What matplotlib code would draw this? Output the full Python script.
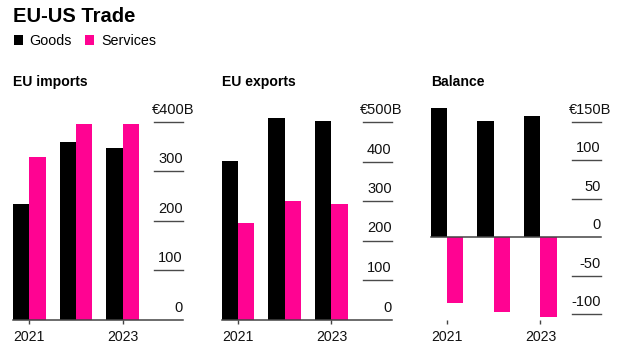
import numpy as np
import matplotlib
matplotlib.use("Agg")
import matplotlib.pyplot as plt
import matplotlib.transforms as mtransforms
from matplotlib.patches import Patch

plt.rcParams['font.family'] = ['Liberation Sans', 'DejaVu Sans']

# ---- data ----
years = ["2021", "2022", "2023"]
year_tick_labels = ["2021", "", "2023"]

imports_goods = [233, 359, 346]
imports_services = [329, 396, 396]

exports_goods = [401, 510, 503]
exports_services = [245, 300, 293]

balance_goods = [168, 151, 157]
balance_services = [-85, -97, -104]

panel_titles = ["EU imports", "EU exports", "Balance"]
imports_ticks = [0, 100, 200, 300, 400]
exports_ticks = [0, 100, 200, 300, 400, 500]
balance_ticks = [-100, -50, 0, 50, 100, 150]

legend_labels = ["Goods", "Services"]
GOODS_COLOR = "#000000"
SERV_COLOR = "#ff0392"

W, H = 621, 357
fig = plt.figure(figsize=(W / 100, H / 100), dpi=100)
fig.patch.set_facecolor("white")

def fx(px):
    return px / W

def fy(py):
    return 1 - py / H

panels = [
    dict(title=panel_titles[0], goods=imports_goods, serv=imports_services,
         ticks=imports_ticks, left=13, base=320, scale=0.496, top=100, bottom=320),
    dict(title=panel_titles[1], goods=exports_goods, serv=exports_services,
         ticks=exports_ticks, left=221.7, base=319.5, scale=0.395, top=100, bottom=320),
    dict(title=panel_titles[2], goods=balance_goods, serv=balance_services,
         ticks=balance_ticks, left=430.7, base=237.3, scale=0.771, top=100, bottom=320),
]

width_px = 170
bw = 0.35
x = np.arange(len(years))

for p in panels:
    ax = fig.add_axes([fx(p["left"]), fy(p["bottom"]), width_px / W, (p["bottom"] - p["top"]) / H])
    ymax = (p["base"] - p["top"]) / p["scale"]
    ymin = -(p["bottom"] - p["base"]) / p["scale"]
    ax.set_ylim(ymin, ymax)
    ax.set_xlim(-bw, -bw + width_px / 46.7)
    ax.bar(x - bw / 2, p["goods"], bw, color=GOODS_COLOR, linewidth=0, zorder=2)
    ax.bar(x + bw / 2, p["serv"], bw, color=SERV_COLOR, linewidth=0, zorder=2)
    for s in ax.spines.values():
        s.set_visible(False)
    ax.set_yticks([])
    ax.set_xticks(x)
    ax.set_xticklabels(year_tick_labels, fontsize=10.2, color="#111111")
    ax.tick_params(axis="x", length=3, width=1, color="#444444", pad=4)
    ax.xaxis.get_major_ticks()[1].tick1line.set_visible(False)
    ytr = ax.get_yaxis_transform()
    ax.plot([0, 1], [0, 0], transform=ytr, color="#444444", lw=1.1, zorder=3, clip_on=False)
    gx0 = 1 - 29 / width_px
    off = mtransforms.ScaledTranslation(0, 8 / 100, fig.dpi_scale_trans)
    off_top = mtransforms.ScaledTranslation(11 / 100, 8 / 100, fig.dpi_scale_trans)
    top_tick = p["ticks"][-1]
    for t in p["ticks"]:
        if t != 0:
            ax.plot([gx0, 1], [t, t], transform=ytr, color="#4a4a4a", lw=1.0, zorder=1, clip_on=False)
        if t == top_tick:
            ax.text(1, t, f"€{t}B", transform=ytr + off_top, ha="right", va="baseline",
                    fontsize=10.5, color="#111111", clip_on=False)
        else:
            ax.text(1, t, f"{t}", transform=ytr + off, ha="right", va="baseline",
                    fontsize=10.5, color="#111111", clip_on=False)
    ax.set_title(p["title"], loc="left", pad=10, fontsize=10.1, fontweight="bold")
    ax.patch.set_alpha(0)

fig.text(fx(13), fy(22), "EU-US Trade", fontsize=14.5, fontweight="bold", va="baseline", ha="left")

handles = [Patch(facecolor=GOODS_COLOR), Patch(facecolor=SERV_COLOR)]
fig.legend(handles, legend_labels, loc="upper left", bbox_to_anchor=(fx(14), fy(34)),
           ncol=2, frameon=False, fontsize=10.3, handlelength=0.63, handleheight=0.63,
           handletextpad=0.47, columnspacing=0.93, borderpad=0, borderaxespad=0)

fig.savefig("out.png", dpi=100)
